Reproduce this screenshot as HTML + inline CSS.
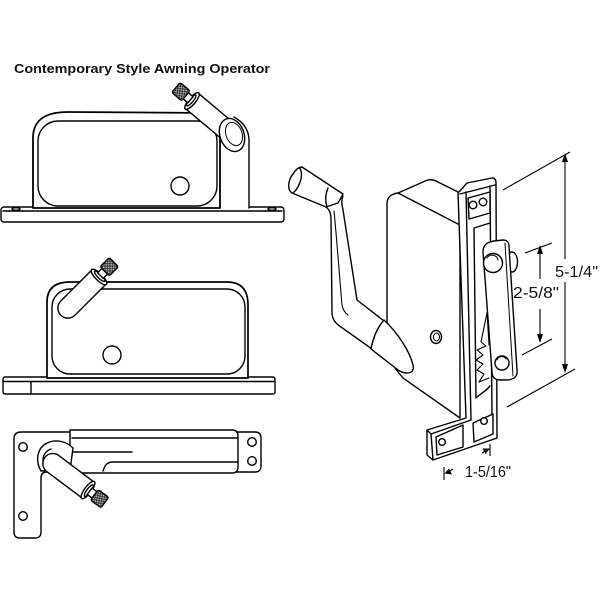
<!DOCTYPE html>
<html><head><meta charset="utf-8"><style>
html,body{margin:0;padding:0;background:#fff;}
svg{display:block;}
</style></head><body>
<svg width="600" height="600" viewBox="0 0 600 600" xmlns="http://www.w3.org/2000/svg">
<defs>
<pattern id="k" width="2.4" height="2.4" patternUnits="userSpaceOnUse"><rect width="2.4" height="2.4" fill="#fff"/><path d="M0,0L2.4,2.4M2.4,0L0,2.4" stroke="#000" stroke-width="0.6"/></pattern>
</defs>
<rect width="600" height="600" fill="#fff"/>
<text x="14" y="73" font-family="'Liberation Sans', Arial, sans-serif" font-weight="bold" font-size="13" textLength="256" lengthAdjust="spacingAndGlyphs" fill="#111">Contemporary Style Awning Operator</text>

<g fill="#fff" stroke="#000" stroke-width="1.4" stroke-linejoin="round" stroke-linecap="round">

<!-- ===== TOP OPERATOR ===== -->
<rect x="1" y="207" width="283" height="15" rx="3"/>
<path d="M3,211 L282,211" fill="none"/>
<ellipse cx="16" cy="209" rx="4" ry="1.3"/>
<ellipse cx="272" cy="209" rx="4" ry="1.3"/>
<path d="M218,208 L218,140 L240,124 L249,137 L249,208 Z" stroke="none"/>
<path d="M249,208 L249,140 C249,130 243,122 234,117" fill="none"/>
<path d="M33,208 L33,138 C33,120 45,112 68,112 L214,113 L220,122 L220,208 Z" stroke-width="1.8"/>
<rect x="38" y="121" width="179" height="85" rx="20" fill="none"/>
<circle cx="180" cy="186" r="9"/>
<g transform="translate(192,101) rotate(220)">
<path d="M0,-10 L-44,-10 A10,10 0 0 0 -44,10 L0,10 Z"/>
<ellipse cx="0" cy="0" rx="3.5" ry="10.5"/>
<ellipse cx="1" cy="0" rx="2" ry="7"/>
<rect x="2" y="-4" width="7" height="8"/>
<rect x="8" y="-6.5" width="13" height="13" rx="2" fill="url(#k)"/>
</g>
<ellipse cx="232" cy="135" rx="12" ry="17" transform="rotate(-20 232 135)"/>
<ellipse cx="234" cy="134" rx="8" ry="12" transform="rotate(-20 234 134)" fill="none" stroke-width="1"/>

<!-- ===== MIDDLE OPERATOR ===== -->
<rect x="3" y="377" width="272" height="17" rx="2"/>
<path d="M4,381.5 L274,381.5 M31,381.5 L31,394" fill="none"/>
<path d="M47,378 L47,302 Q47,282 70,282 L227,282 Q248,282 248,305 L248,378 Z" stroke-width="1.7"/>
<rect x="52" y="289" width="193" height="85" rx="18" fill="none"/>
<circle cx="112" cy="355" r="9"/>
<g transform="translate(99,277) rotate(-45)">
<path d="M0,-10 L-44,-10 A10,10 0 0 0 -44,10 L0,10 Z"/>
<ellipse cx="0" cy="0" rx="3.5" ry="10.5"/>
<ellipse cx="1" cy="0" rx="2" ry="7"/>
<rect x="2" y="-4" width="7" height="8"/>
<rect x="8" y="-6.5" width="13" height="13" rx="2" fill="url(#k)"/>
</g>

<!-- ===== BOTTOM OPERATOR ===== -->
<path d="M14,439 Q14,432 21,432 L255,432 Q261,432 261,438 L261,466 Q261,472 255,472 L47,472 Q41,472 41,478 L41,532 Q41,538 35,538 L20,538 Q14,538 14,532 Z"/>
<circle cx="23" cy="447" r="4.3"/>
<circle cx="23" cy="516" r="4.3"/>
<circle cx="252" cy="442" r="4.3"/>
<circle cx="252" cy="461" r="4.3"/>
<path d="M70,458 L70,430 L232,430 Q238,430 238,436 L238,467 Q238,473 232,473 L100,473 L70,473 Z"/>
<path d="M72,438 L237,438 M72,452 L132,452 M103,471 C105,465 107,462 113,462 L237,462" fill="none"/>
<path d="M41,471 C35,461 37,448 47,443 C56,439 66,441 73,448 L70,470 Z"/>
<path d="M45,468 C41,460 43,452 51,449" fill="none"/>
<g transform="translate(88,490) rotate(37)">
<path d="M0,-10 L-44,-10 A10,10 0 0 0 -44,10 L0,10 Z"/>
<ellipse cx="0" cy="0" rx="3.5" ry="10.5"/>
<ellipse cx="1" cy="0" rx="2" ry="7"/>
<rect x="2" y="-4" width="7" height="8"/>
<rect x="8" y="-6.5" width="13" height="13" rx="2" fill="url(#k)"/>
</g>

<!-- ===== RIGHT OPERATOR ===== -->
<!-- housing -->
<path d="M387,330 L387,204 C387,197 391,194 398,193 L423,182 C428,179 433,179 438,182 L460,193 L460,418 L403,378 L395,368 Z"/>
<path d="M398,193 L458,224" fill="none"/>
<ellipse cx="436" cy="337" rx="5.5" ry="6.5"/>
<ellipse cx="436.5" cy="337" rx="3" ry="4" fill="none" stroke-width="1"/>
<!-- crank arm -->
<path d="M326,207 L331,214 L332,312 C332,319 335,323 341,327 L372,348 L384,321 L357,300 L343,196 L338,203 Z" stroke="none"/>
<path d="M326,207 C330,210 331,214 331,220 L332,312 C332,319 335,323 341,327 L372,349" fill="none"/>
<path d="M343,196 C341,200 342,205 343,210 L357,300 L384,321" fill="none"/>
<path d="M334,211 C336,230 339,270 342,305 C343,310 345,313 348,315" fill="none" stroke-width="1.1"/>
<!-- grip -->
<path d="M302,167 L343,194 L338,203 L326,207 L292,193 C287,190 288,180 293,174 C296,169 299,167 302,167 Z"/>
<path d="M300,168 C304,176 299,188 293,193" fill="none"/>
<path d="M328,188 C325,195 325,201 327,207" fill="none"/>
<!-- cone -->
<path d="M384,320 C398,333 410,352 413,365 C415,374 406,375 398,370 L371,349 C373,338 377,328 384,320 Z"/>
<!-- plate + foot -->
<path d="M458,193 L467,183 L492,178 Q496,178 496,183 L497,438 L433,460 L427,455 L427,430 L466,418 L458,193 Z"/>
<path d="M460,194 L495,185 M466,192 L471,420 M427,430 L431,434 L433,460 M431,434 L471,420" fill="none"/>
<path d="M490,186 L492,416" fill="none"/>
<path d="M468,198 L490,192 L490,213 L469,219 Z"/>
<circle cx="473" cy="205" r="3.8"/>
<circle cx="483" cy="202" r="3.8"/>
<path d="M476,398 L474,228 L490,223" fill="none"/>
<path d="M476,398 C480,394 485,392 490,386" fill="none"/>
<!-- lower pockets -->
<path d="M436,437 L463,425 L463,447 L437,455 Z"/>
<circle cx="442" cy="442" r="3.3"/>
<path d="M473,423 L493,414 L493,434 L474,442 Z"/>
<circle cx="484" cy="421" r="3.3"/>
<!-- gear teeth -->
<path d="M487,313 L481,342 L486,346 L477,350 L483,355 L476,360 L483,364 L477,370 L484,374 L479,382 L489,378" fill="none" stroke-width="1.1"/>
<path d="M487,313 L489,345" fill="none" stroke-width="1"/>
<!-- disc behind lever -->
<ellipse cx="512" cy="262" rx="5.5" ry="10"/>
<!-- lever -->
<path d="M483,252 C483,245 487,242 494,241 L503,240 C508,240 509,243 509,247 L517,370 C518,377 513,380 506,380 L500,380 C495,380 492,377 492,372 Z"/>
<path d="M505,243 L513,376" fill="none" stroke-width="1"/>
<circle cx="493" cy="263" r="9.5"/>
<path d="M487,258 A6,6 0 0 1 498,260" fill="none" stroke-width="1"/>
<circle cx="502" cy="363" r="7"/>
<path d="M497,360 A5,5 0 0 1 506,359" fill="none" stroke-width="1"/>
</g>

<!-- ===== DIMENSIONS ===== -->
<g stroke="#000" stroke-width="1.1" fill="none">
<path d="M503,190 L570,152 M507,407 L575,369"/>
<path d="M565,160 L565,259 M565,282 L565,366"/>
<path d="M525,253 L552,243 M522,355 L552,339"/>
<path d="M540,252 L540,279 M540,309 L540,336"/>
<path d="M490,444 L490,456 M482,453 L487,450"/>
<path d="M444,467 L444,480 M453,469 L448,472"/>
</g>
<g fill="#000" stroke="none">
<polygon points="565,153 562,162 568,162"/>
<polygon points="565,373 562,364 568,364"/>
<polygon points="540,245 537,254 543,254"/>
<polygon points="540,343 537,334 543,334"/>
<polygon points="490,448.5 482.5,448.5 485.5,454"/>
<polygon points="444.5,473.5 452,474.5 449,468.5"/>
</g>
<g font-family="'Liberation Sans', Arial, sans-serif" font-size="16" fill="#111">
<text x="555" y="277" textLength="43" lengthAdjust="spacingAndGlyphs">5-1/4"</text>
<text x="513" y="298" textLength="46" lengthAdjust="spacingAndGlyphs">2-5/8"</text>
<text x="465" y="477" textLength="46" lengthAdjust="spacingAndGlyphs">1-5/16"</text>
</g>
</svg>
</body></html>
